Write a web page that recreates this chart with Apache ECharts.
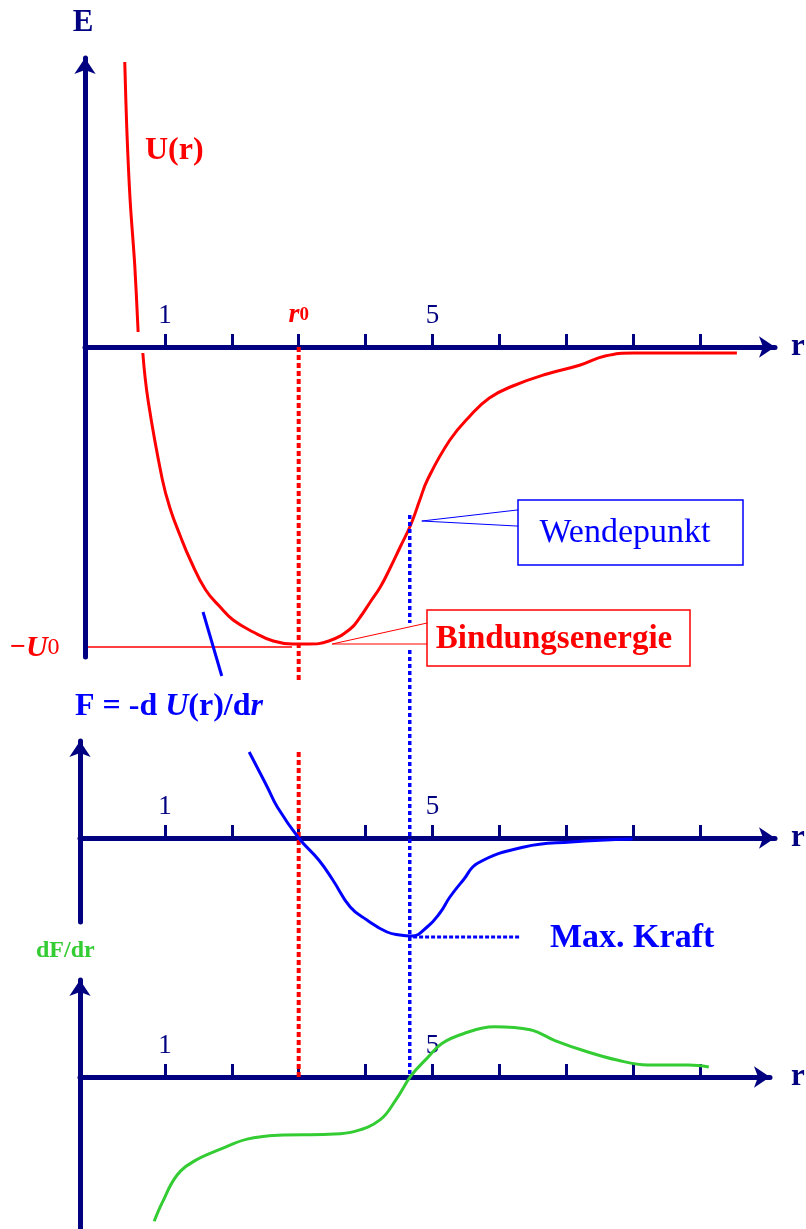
<!DOCTYPE html>
<html>
<head>
<meta charset="utf-8">
<script src="https://cdn.jsdelivr.net/npm/echarts@6/dist/echarts.min.js"></script>
<style>
  html, body { margin: 0; padding: 0; background: #fff; }
  #chart { width: 806px; height: 1229px; }
</style>
</head>
<body>
<div id="chart"></div>
<script>
// r positions of ticks and labelled ticks
const rTicks = [1, 2, 3, 4, 5, 6, 7, 8, 9];
const rLabelsTop = [1, 3, 5];
const rLabels = [1, 5];
const r0 = 3.0;
const rWende = 4.66;

// U(r), top panel, in units of U0
const uUpper = [[0.40, 0.95], [0.43, 0.73], [0.48, 0.49], [0.55, 0.27], [0.60, 0.05]];
const uLower = [
  [0.67, -0.02], [0.75, -0.18], [0.96, -0.44], [1.08, -0.54], [1.23, -0.63], [1.38, -0.71],
  [1.61, -0.81], [1.84, -0.87], [2.02, -0.91], [2.32, -0.95], [2.62, -0.98], [2.91, -0.99],
  [3.14, -0.99], [3.45, -0.98], [3.77, -0.94], [3.92, -0.90], [4.07, -0.85], [4.22, -0.80],
  [4.36, -0.74], [4.51, -0.67], [4.68, -0.59], [4.81, -0.51], [4.93, -0.44], [5.26, -0.31],
  [5.56, -0.23], [5.85, -0.17], [6.20, -0.13], [6.71, -0.09], [7.21, -0.06], [7.58, -0.03],
  [8.00, -0.02], [9.55, -0.02]
];
const u0Line = [[-0.15, -1.0], [2.9, -1.0]];
const bindWedge = [[4.92, -0.92], [3.5, -0.99], [4.92, -0.99]];
const wendeWedge = [[6.28, -0.543], [4.84, -0.58], [6.28, -0.597]];

// F = -dU/dr, middle panel
const fUpper = [[1.57, 2.26], [1.85, 1.62]];
const fMain = [
  [2.26, 0.86], [2.53, 0.51], [2.68, 0.31], [3.0, 0.0], [3.30, -0.22], [3.51, -0.42],
  [3.77, -0.69], [4.02, -0.82], [4.32, -0.94], [4.51, -0.97], [4.69, -0.98], [4.92, -0.89],
  [5.11, -0.75], [5.26, -0.59], [5.46, -0.42], [5.68, -0.25], [6.37, -0.09], [7.07, -0.04],
  [7.99, -0.01]
];
const maxKraftLine = [[4.71, -0.99], [6.31, -0.99]];

// dF/dr, bottom panel
const gCurve = [
  [0.84, -1.50], [0.96, -1.31], [1.18, -1.03], [1.45, -0.88], [1.84, -0.76], [2.23, -0.66],
  [2.69, -0.62], [3.45, -0.61], [3.84, -0.58], [4.22, -0.46], [4.45, -0.26], [4.68, -0.01],
  [4.92, 0.17], [5.14, 0.32], [5.46, 0.42], [5.92, 0.49], [6.46, 0.46], [6.83, 0.35],
  [7.29, 0.24], [7.76, 0.15], [8.22, 0.10], [8.83, 0.10], [9.13, 0.08]
];

// vertical guide lines (top panel / middle panel down to bottom axis)
const r0Top = [[r0, 0], [r0, -1.11]];
const r0Low = [[r0, 0.86], [r0, -2.39]];
const wendeTop = [[rWende, -0.56], [rWende, -0.92]];
const wendeLow = [[rWende, 1.88], [rWende, -2.39]];

const NAVY = '#000080', RED = '#ff0000', BLUE = '#0000ff', GREEN = '#33cc33';
const SERIF = '"Liberation Serif", "DejaVu Serif", serif';

// pixel layout of the three panels
const X0 = 98, UNIT = 66.9;
const panels = [
  { left: 85, right: 775, top: 58,  bottom: 657,  zero: 347,  unit: 300 },
  { left: 80, right: 775, top: 741, bottom: 922,  zero: 838,  unit: 100 },
  { left: 80, right: 770, top: 980, bottom: 1235, zero: 1077, unit: 100 },
];

const chart = echarts.init(document.getElementById('chart'), null, { renderer: 'canvas' });

function line(grid, data, color, width, type, smooth) {
  return {
    type: 'line', xAxisIndex: grid, yAxisIndex: grid, data,
    showSymbol: false, clip: false, silent: true, smooth: smooth || 0,
    lineStyle: { color, width, type: type || 'solid', cap: 'butt' },
  };
}

chart.setOption({
  animation: false,
  backgroundColor: '#fff',
  grid: panels.map(p => ({ left: p.left, top: p.top, width: p.right - p.left, height: p.bottom - p.top })),
  xAxis: panels.map((p, i) => ({
    type: 'value', gridIndex: i, position: 'top', offset: -(p.zero - p.top),
    min: (p.left - X0) / UNIT, max: (p.right - X0) / UNIT,
    axisLine: { onZero: false, symbol: ['none', 'arrow'], symbolSize: [16, 16],
      lineStyle: { color: NAVY, width: 5 } },
    axisTick: { inside: false, length: 13, customValues: rTicks, lineStyle: { color: NAVY, width: 3 } },
    axisLabel: {
      inside: false, margin: 18, customValues: i === 0 ? rLabelsTop : rLabels,
      color: NAVY, fontFamily: SERIF, fontSize: 27,
      formatter: v => v === r0 ? '{r|r}{s|0}' : String(v),
      rich: {
        r: { color: RED, fontFamily: SERIF, fontSize: 28, fontStyle: 'italic', fontWeight: 'bold' },
        s: { color: RED, fontFamily: SERIF, fontSize: 19, fontWeight: 'bold' },
      },
    },
    splitLine: { show: false },
  })),
  yAxis: panels.map((p, i) => ({
    type: 'value', gridIndex: i,
    min: -(p.bottom - p.zero) / p.unit, max: (p.zero - p.top) / p.unit,
    axisLine: { show: true, onZero: false, symbol: ['none', 'arrow'], symbolSize: [16, 16],
      lineStyle: { color: NAVY, width: 5 } },
    axisTick: { show: false },
    axisLabel: { show: false },
    splitLine: { show: false },
  })),
  series: [
    line(0, u0Line, RED, 1.5),
    line(0, uUpper, RED, 3, 'solid', 0.3),
    line(0, uLower, RED, 3, 'solid', 0.45),
    line(0, bindWedge, RED, 1),
    line(0, wendeWedge, BLUE, 1),
    line(0, r0Top, RED, 4, [5, 3]),
    line(0, wendeTop, BLUE, 3.5, [4, 3]),
    line(1, r0Low, RED, 4, [5, 3]),
    line(1, wendeLow, BLUE, 3.5, [4, 3]),
    line(1, fUpper, BLUE, 3),
    line(1, fMain, BLUE, 3, 'solid', 0.45),
    line(1, maxKraftLine, BLUE, 3, [4, 2]),
    line(2, gCurve, GREEN, 3, 'solid', 0.4),
  ],
  graphic: [
    { type: 'text', x: 83, y: 23, style: { text: 'E', fill: NAVY, font: 'bold 31px ' + SERIF,
      align: 'center', textAlign: 'center', verticalAlign: 'middle', textVerticalAlign: 'middle' } },
    { type: 'text', x: 145, y: 151, style: { text: 'U(r)', fill: RED, font: 'bold 32px ' + SERIF,
      align: 'left', textAlign: 'left', verticalAlign: 'middle', textVerticalAlign: 'middle' } },
    ...panels.map(p => ({ type: 'text', x: 791, y: p.zero, style: { text: 'r', fill: NAVY,
      font: 'bold 31px ' + SERIF, align: 'left', textAlign: 'left', verticalAlign: 'middle', textVerticalAlign: 'middle' } })),
    { type: 'text', x: 10, y: 648, style: {
      text: '{m|\u2212}{u|U}{s|0}', align: 'left', textAlign: 'left', verticalAlign: 'middle', textVerticalAlign: 'middle',
      rich: {
        m: { fill: RED, color: RED, font: 'bold 28px ' + SERIF },
        u: { fill: RED, color: RED, font: 'italic bold 30px ' + SERIF },
        s: { fill: RED, color: RED, font: '24px ' + SERIF },
      } } },
    { type: 'text', x: 75, y: 707, style: {
      text: '{b|F = -d }{i|U}{b|(r)/d}{i|r}', align: 'left', textAlign: 'left', verticalAlign: 'middle', textVerticalAlign: 'middle',
      rich: {
        b: { fill: BLUE, color: BLUE, font: 'bold 32px ' + SERIF },
        i: { fill: BLUE, color: BLUE, font: 'italic bold 32px ' + SERIF },
      } } },
    { type: 'rect', shape: { x: 518, y: 500, width: 225, height: 65 },
      style: { fill: '#fff', stroke: BLUE, lineWidth: 1.5 } },
    { type: 'text', x: 625, y: 533, style: { text: 'Wendepunkt', fill: BLUE, font: '34px ' + SERIF,
      align: 'center', textAlign: 'center', verticalAlign: 'middle', textVerticalAlign: 'middle' } },
    { type: 'rect', shape: { x: 427, y: 610, width: 263, height: 56 },
      style: { fill: '#fff', stroke: RED, lineWidth: 1.5 } },
    { type: 'text', x: 554, y: 639, style: { text: 'Bindungsenergie', fill: RED, font: 'bold 33px ' + SERIF,
      align: 'center', textAlign: 'center', verticalAlign: 'middle', textVerticalAlign: 'middle' } },
    { type: 'text', x: 550, y: 938, style: { text: 'Max. Kraft', fill: BLUE, font: 'bold 34px ' + SERIF,
      align: 'left', textAlign: 'left', verticalAlign: 'middle', textVerticalAlign: 'middle' } },
    { type: 'text', x: 36, y: 951, style: { text: 'dF/dr', fill: GREEN, font: 'bold 24px ' + SERIF,
      align: 'left', textAlign: 'left', verticalAlign: 'middle', textVerticalAlign: 'middle' } },
  ],
});
</script>
</body>
</html>
